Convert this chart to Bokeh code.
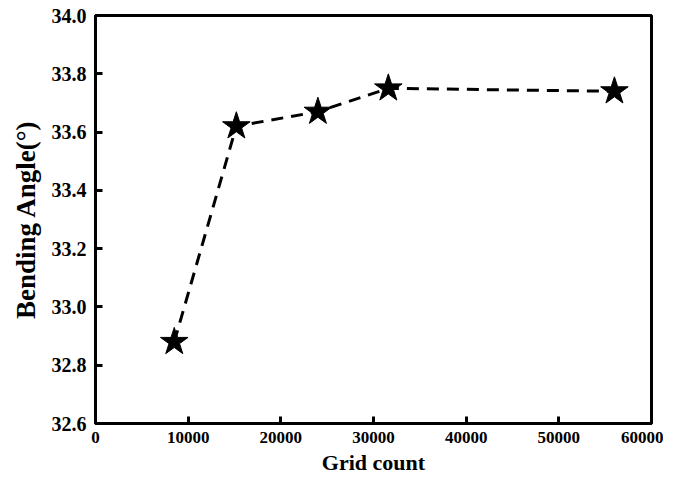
from bokeh.plotting import figure
from bokeh.embed import file_html
from bokeh.resources import INLINE
from bokeh.models import Range1d, FixedTicker

grid_count = [8500, 15200, 24000, 31600, 56000]
bending_angle = [32.88, 33.62, 33.67, 33.75, 33.74]
x_ticks = [0, 10000, 20000, 30000, 40000, 50000, 60000]
y_ticks = [32.6, 32.8, 33.0, 33.2, 33.4, 33.6, 33.8, 34.0]

p = figure(width=663, height=479, output_backend="svg", toolbar_location=None,
           x_range=Range1d(0, 60000), y_range=Range1d(32.6, 34.0),
           min_border_left=95, min_border_right=12, min_border_top=15, min_border_bottom=56)

p.line(grid_count, bending_angle, line_color="black", line_width=3, line_dash="12 8")
p.scatter(grid_count, bending_angle, marker="star", size=29, fill_color="black", line_color="black")

p.xgrid.visible = False
p.ygrid.visible = False
p.outline_line_color = "black"
p.outline_line_width = 3
p.background_fill_color = "white"

font = "Liberation Serif"
for ax in (p.xaxis[0], p.yaxis[0]):
    ax.axis_line_width = 3
    ax.axis_line_color = "black"
    ax.major_tick_in = 7
    ax.major_tick_out = 0
    ax.major_tick_line_width = 3
    ax.minor_tick_line_color = None
    ax.major_label_text_font = font
    ax.major_label_text_font_style = "bold"
    ax.major_label_text_color = "black"
    ax.axis_label_text_font = font
    ax.axis_label_text_font_style = "bold"
    ax.axis_label_text_color = "black"

p.xaxis.major_label_text_font_size = "17px"
p.yaxis.major_label_text_font_size = "20px"
p.xaxis.axis_label_text_font_size = "22px"
p.yaxis.axis_label_text_font_size = "27px"

p.xaxis.ticker = FixedTicker(ticks=x_ticks)
p.yaxis.ticker = FixedTicker(ticks=y_ticks)
p.yaxis.major_label_overrides = {v: f"{v:.1f}" for v in y_ticks}
p.xaxis.axis_label = "Grid count"
p.yaxis.axis_label = "Bending Angle(°)"
p.xaxis.major_label_standoff = 8
p.yaxis.major_label_standoff = 9
p.xaxis.axis_label_standoff = 4
p.yaxis.axis_label_standoff = 8

open("out.html", "w").write(file_html(p, INLINE))
